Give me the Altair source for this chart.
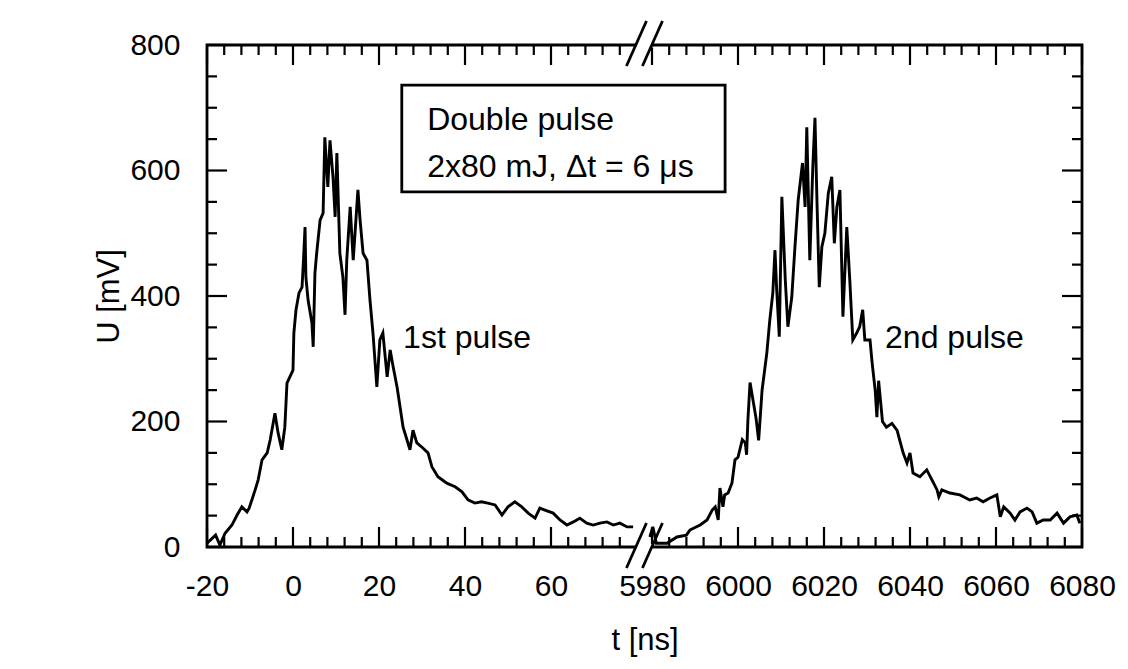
import altair as alt
import pandas as pd

# ---- data ----
T1 = [-20, -18, -17, -15.8, -14.2, -13, -11.9, -10.7, -10.2, -8.8, -8.1, -7.2, -6, -5.3,
      -4.2, -3.5, -2.6, -1.9, -1.4, 0, 0.2, 0.7, 1.4, 2.1, 2.4, 2.8, 3.0, 3.5, 4.4, 4.7,
      5.1, 5.5, 6.3, 7.0, 7.4, 8.1, 8.6, 9.3, 9.8, 10.2, 10.9, 11.6, 12.1, 12.5, 13.3,
      14.0, 15.1, 15.6, 16.3, 17.2, 17.9, 18.6, 19.5, 20.2, 20.9, 21.9, 22.6, 23.3, 24.2,
      24.9, 25.6, 26.5, 27.2, 27.9, 28.8, 30, 31.4, 32.3, 33.7, 35.3, 36, 37.7, 39.3,
      40.7, 42.3, 43.8, 45.3, 47, 48.6, 50, 51.6, 53.2, 54.7, 56.3, 57.4, 58.9, 60.5,
      62.1, 63.7, 65.2, 66.7, 68.3, 69.8, 71.4, 73, 74.5, 76, 77.7, 79.1]
U1 = [6, 19, 3, 22, 35, 51, 64, 56, 62, 91, 107, 139, 150, 171,
      213, 183, 155, 191, 261, 282, 341, 378, 405, 414, 452, 510, 430, 394, 357, 319,
      436, 468, 521, 532, 653, 574, 648, 590, 526, 628, 468, 430, 370, 457, 542,
      457, 569, 521, 468, 457, 394, 341, 255, 330, 341, 271, 314, 287, 255,
      223, 191, 171, 155, 186, 166, 159, 150, 128, 112, 104, 101, 96, 88,
      75, 70, 72, 70, 67, 51, 64, 72, 64, 54, 46, 62, 58, 54,
      43, 35, 40, 46, 38, 35, 38, 40, 35, 38, 32, 32]

T2 = [5979.5, 5980.2, 5981, 5983.5, 5985.8, 5988, 5988.8, 5991.2, 5992.8, 5994, 5994.7,
      5995.4, 5995.8, 5996.5, 5996.9, 5997.7, 5998.6, 5999.3, 6000, 6001, 6001.7, 6002,
      6002.3, 6002.8, 6004.2, 6004.8, 6005.6, 6006.7, 6007.4, 6008.1, 6008.6, 6009,
      6009.6, 6010.2, 6011, 6011.6, 6012.5, 6013.3, 6014, 6015, 6015.6, 6016, 6016.7,
      6017.4, 6017.9, 6018.4, 6018.9, 6019.5, 6020.2, 6021, 6021.8, 6022.4, 6023,
      6023.7, 6024.4, 6024.9, 6025.3, 6026, 6026.7, 6027.6, 6028.3, 6029, 6029.5,
      6030.7, 6031.2, 6031.9, 6032.3, 6032.7, 6033.6, 6034.5, 6035.8, 6037, 6038.4,
      6039.3, 6040, 6040.7, 6042.3, 6043.9, 6045.1, 6046.3, 6046.7, 6047.4, 6049.3,
      6051.6, 6053.9, 6055.5, 6057, 6058.6, 6060.2, 6061, 6061.8, 6063.3, 6064.4,
      6065.6, 6067.2, 6068.4, 6069.5, 6071, 6072.6, 6074.2, 6075.7, 6077.2, 6078.8, 6079.5]
U2 = [16, 32, 6, 6, 16, 19, 27, 35, 43, 59, 64,
      43, 94, 64, 83, 86, 102, 139, 143, 171, 166, 147,
      202, 262, 205, 170, 250, 309, 362, 405, 473, 410,
      335, 558, 425, 351, 398, 484, 553, 612, 542, 669, 457,
      606, 684, 542, 414, 478, 500, 564, 590, 484, 542,
      569, 367, 446, 510, 425, 330, 341, 351, 378, 330,
      330, 293, 250, 207, 265, 200, 191, 197, 186, 150,
      134, 150, 118, 112, 123, 107, 91, 80, 91, 86,
      83, 75, 78, 72, 78, 83, 48, 64, 54, 43,
      56, 62, 56, 38, 43, 43, 54, 38, 48, 51, 38]

X_LABELS = [-20, 0, 20, 40, 60, 5980, 6000, 6020, 6040, 6060, 6080]
Y_LABELS = [0, 200, 400, 600, 800]
X_MINOR = [v for v in range(-16, 80, 4) if v % 20] + [v for v in range(5984, 6080, 4) if v % 20]
Y_MINOR = [v for v in range(50, 800, 50) if v % 200]

BOX_TEXT = ["Double pulse", "2x80 mJ, \u0394t = 6 \u03bcs"]
LABEL_1ST = "1st pulse"
LABEL_2ND = "2nd pulse"

# ---- layout ----
W, H = 875, 502
FONT = "Liberation Sans"
BREAK_T = 81.5

xs = alt.Scale(domain=[-20, 82, 5979, 6080], range=[0, 438.6, 440.7, 875], nice=False, zero=False)
ys = alt.Scale(domain=[0, 800], nice=False, zero=False)

XAX = alt.Axis(
    values=X_LABELS, title="t [ns]", ticks=False, domain=False, grid=False,
    labelExpr="'' + datum.value",
    labelFont=FONT, labelFontSize=30, labelColor="black", labelPadding=24,
    labelFlush=False, labelOverlap=False,
    titleFont=FONT, titleFontSize=31, titleFontWeight="normal", titleColor="black",
    titlePadding=24)
YAX = alt.Axis(
    values=Y_LABELS, title="U [mV]", ticks=False, domain=False, grid=False,
    labelExpr="'' + datum.value",
    labelFont=FONT, labelFontSize=30, labelColor="black", labelPadding=27,
    labelFlush=False, labelOverlap=False,
    titleFont=FONT, titleFontSize=31, titleFontWeight="normal", titleColor="black",
    titlePadding=4)

df = pd.DataFrame({
    "t": T1 + T2,
    "U": U1 + U2,
    "pulse": ["1st"] * len(T1) + ["2nd"] * len(T2),
})

line = alt.Chart(df).mark_line(color="black", strokeWidth=2.9).encode(
    x=alt.X("t:Q", scale=xs, axis=XAX),
    y=alt.Y("U:Q", scale=ys, axis=YAX),
    detail="pulse:N",
)

def xticks(values, size, top):
    d = pd.DataFrame({"t": values})
    if top:
        yy, yy2 = alt.value(0), alt.value(size)
    else:
        yy, yy2 = alt.value(H), alt.value(H - size)
    return alt.Chart(d).mark_rule(color="black", strokeWidth=2.2).encode(
        x=alt.X("t:Q", scale=xs, axis=XAX), y=yy, y2=yy2)

def yticks(values, size, right):
    d = pd.DataFrame({"U": values})
    if right:
        xx, xx2 = alt.value(W), alt.value(W - size)
    else:
        xx, xx2 = alt.value(0), alt.value(size)
    return alt.Chart(d).mark_rule(color="black", strokeWidth=2.2).encode(
        y=alt.Y("U:Q", scale=ys, axis=YAX), x=xx, x2=xx2)

ticks = [
    xticks(X_LABELS, 20, False), xticks(X_MINOR, 10, False),
    xticks(X_LABELS, 20, True), xticks(X_MINOR, 10, True),
    yticks(Y_LABELS, 20, False), yticks(Y_MINOR, 10, False),
    yticks(Y_LABELS, 20, True), yticks(Y_MINOR, 10, True),
]

one = pd.DataFrame({"a": [0]})

def xd(v):
    return alt.XDatum(datum=v, type="quantitative", scale=xs, axis=XAX)

def yd(v):
    return alt.YDatum(datum=v, type="quantitative", scale=ys, axis=YAX)

# break gaps and slashes
breaks = []
for yy in (0, H):
    breaks.append(alt.Chart(one).mark_rect(color="white", xOffset=-7, x2Offset=9).encode(
        x=xd(BREAK_T), x2=alt.datum(BREAK_T),
        y=alt.value(yy - 3), y2=alt.value(yy + 3)))
    for dx in (-17, -1):
        breaks.append(alt.Chart(one).mark_rule(color="black", strokeWidth=2.8,
                                               xOffset=dx, x2Offset=dx + 20).encode(
            x=xd(BREAK_T), x2=alt.datum(BREAK_T),
            y=alt.value(yy + 21), y2=alt.value(yy - 24)))

box = alt.Chart(one).mark_rect(fill="white", stroke="black", strokeWidth=2.8).encode(
    x=xd(25.3), x2=alt.datum(5997), y=yd(736), y2=alt.datum(566))

def label(text, t, u, size=32):
    return alt.Chart(one).mark_text(text=text, align="left", baseline="middle",
                                    font=FONT, fontSize=size, color="black").encode(
        x=xd(t), y=yd(u))

texts = [
    label(BOX_TEXT[0], 31.2, 680),
    label(BOX_TEXT[1], 31.2, 606),
    label(LABEL_1ST, 25.6, 333),
    label(LABEL_2ND, 6034.2, 333),
]

chart = alt.layer(line, *ticks, box, *texts, *breaks).properties(
    width=W, height=H,
    autosize=alt.AutoSizeParams(type="none"),
    padding={"left": 199, "top": 37, "right": 38, "bottom": 114},
).configure(background="white").configure_view(stroke="black", strokeWidth=2.8)

chart.save("out.html", embed_options={"renderer": "svg", "actions": False})
